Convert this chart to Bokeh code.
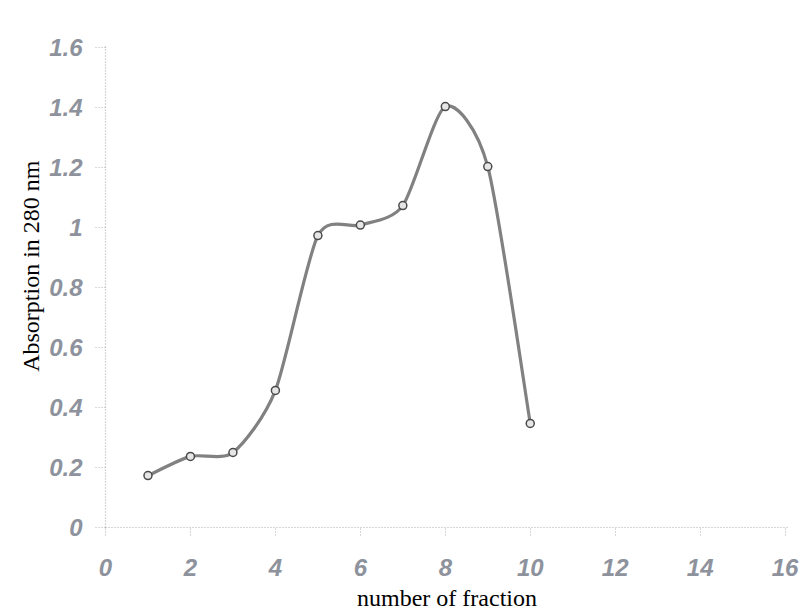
import numpy as np
from bokeh.plotting import figure
from bokeh.models import Range1d, FixedTicker, Title
from bokeh.embed import file_html
from bokeh.resources import INLINE

# data
fraction = [1, 2, 3, 4, 5, 6, 7, 8, 9, 10]
absorption = [0.173, 0.237, 0.250, 0.457, 0.973, 1.008, 1.073, 1.403, 1.203, 0.347]
x_ticks = [0, 2, 4, 6, 8, 10, 12, 14, 16]
y_ticks = [0, 0.2, 0.4, 0.6, 0.8, 1.0, 1.2, 1.4, 1.6]
y_tick_labels = {0: "0", 0.2: "0.2", 0.4: "0.4", 0.6: "0.6", 0.8: "0.8",
                 1.0: "1", 1.2: "1.2", 1.4: "1.4", 1.6: "1.6"}
x_title = "number of fraction"
y_title = "Absorption in 280 nm"

p = figure(width=805, height=614, output_backend="svg", toolbar_location=None,
           x_range=Range1d(0, 16.08), y_range=Range1d(0, 1.61),
           min_border_left=105, min_border_right=17, min_border_top=44, min_border_bottom=87)
p.outline_line_color = None
p.grid.grid_line_color = None
p.background_fill_color = "white"

# smooth curve (cardinal spline as cubic Bezier segments)
xs = np.array(fraction, dtype=float)
ys = np.array(absorption, dtype=float)
n = len(xs)
k = 8.0
x0, y0, x1, y1, cx0, cy0, cx1, cy1 = [], [], [], [], [], [], [], []
for i in range(n - 1):
    pm = max(i - 1, 0)
    pp = min(i + 2, n - 1)
    x0.append(xs[i]); y0.append(ys[i])
    x1.append(xs[i + 1]); y1.append(ys[i + 1])
    cx0.append(xs[i] + (xs[i + 1] - xs[pm]) / k)
    cy0.append(ys[i] + (ys[i + 1] - ys[pm]) / k)
    cx1.append(xs[i + 1] - (xs[pp] - xs[i]) / k)
    cy1.append(ys[i + 1] - (ys[pp] - ys[i]) / k)
p.bezier(x0=x0, y0=y0, x1=x1, y1=y1, cx0=cx0, cy0=cy0, cx1=cx1, cy1=cy1,
         line_color="#818181", line_width=3.2)
p.scatter(fraction, absorption, size=8, marker="circle", fill_color="#e6e6e6",
          line_color="#4a4a4a", line_width=1.5)

label_color = "#8e929c"
for ax in (p.xaxis[0], p.yaxis[0]):
    ax.axis_line_color = "#b0b0b0"
    ax.axis_line_dash = "1 2"
    ax.axis_line_width = 1.2
    ax.major_tick_line_color = "#b0b0b0"
    ax.major_tick_line_dash = "1 2"
    ax.major_tick_in = 0
    ax.minor_tick_line_color = None
    ax.major_label_text_font = "Liberation Sans"
    ax.major_label_text_font_style = "bold italic"
    ax.major_label_text_font_size = "24px"
    ax.major_label_text_color = label_color
    ax.axis_label_text_font = "Liberation Serif"
    ax.axis_label_text_font_style = "normal"
    ax.axis_label_text_font_size = "24px"
    ax.axis_label_text_color = "black"

p.xaxis.ticker = FixedTicker(ticks=x_ticks)
p.yaxis.ticker = FixedTicker(ticks=y_ticks)
p.yaxis.major_label_overrides = y_tick_labels
p.xaxis.major_tick_out = 8
p.yaxis.major_tick_out = 10
p.xaxis.major_label_standoff = 23
p.yaxis.major_label_standoff = 13
p.xaxis.axis_label = x_title
p.xaxis.axis_label_standoff = 6

# y title as a side title, anchored near the top as in the original
p.add_layout(Title(text=y_title, align="right", offset=116, standoff=5,
                   text_font="Liberation Serif", text_font_size="24px",
                   text_font_style="normal", text_color="black"), "left")

open("out.html", "w").write(file_html(p, INLINE))
